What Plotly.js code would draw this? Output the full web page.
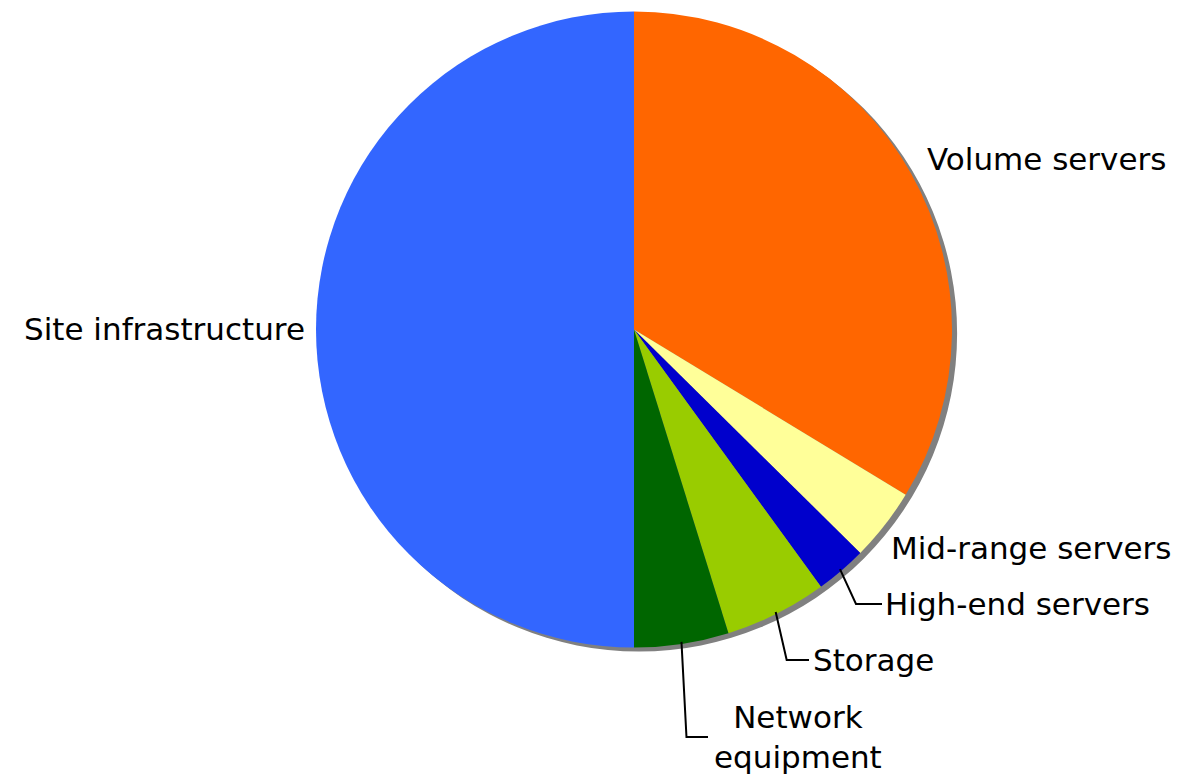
<!DOCTYPE html>
<html>
<head>
<meta charset="utf-8">
<script src="https://cdn.plot.ly/plotly-3.0.1.min.js"></script>
<style>
html,body{margin:0;padding:0;background:#fff;}
#chart{width:1191px;height:774px;}
</style>
</head>
<body>
<div id="chart"></div>
<script>
// ---- data ----
const labels = ['Volume servers', 'Mid-range servers', 'High-end servers', 'Storage', 'Network equipment', 'Site infrastructure'];
const values = [33.7, 3.7, 2.6, 5.2, 4.8, 50.0];
const colors = ['#FF6600', '#FFFF99', '#0000CC', '#99CC00', '#006600', '#3366FF'];
const labelText = ['Volume servers', 'Mid-range servers', 'High-end servers', 'Storage', 'Network<br>equipment', 'Site infrastructure'];

// ---- layout constants (pixels) ----
const W = 1191, H = 774;
const CX = 634, CY = 329.5, R = 318;
const SHADOW_DX = 5, SHADOW_DY = 4;
// label placement: [x, y, xanchor, leader?, elbowDx]
const labelPos = [
  [925, 159, 'left', false, 0],
  [889, 548, 'left', false, 0],
  [883, 604, 'left', true, 16],
  [811, 660, 'left', true, 11],
  [798, 737, 'center', true, 5],
  [307, 329, 'right', false, 0]
];
const leaderEnd = [null, null, 882, 809, 708, null];

const px = x => x / W;
const py = y => 1 - y / H;

const total = values.reduce((a, b) => a + b, 0);
let cum = 0;
const mids = values.map(v => { const m = (cum + v / 2) / total * 2 * Math.PI; cum += v; return m; });

const traces = [
  {
    type: 'pie', values: [1], marker: {colors: ['#808080'], line: {width: 0}},
    textinfo: 'none', hoverinfo: 'skip', showlegend: false, sort: false,
    domain: {x: [px(CX - R + SHADOW_DX), px(CX + R + SHADOW_DX)], y: [py(CY + R + SHADOW_DY), py(CY - R + SHADOW_DY)]}
  },
  {
    type: 'pie', labels: labels, values: values,
    marker: {colors: colors, line: {width: 0}},
    sort: false, direction: 'clockwise', rotation: 0,
    textinfo: 'none', hoverinfo: 'label+percent', showlegend: false,
    domain: {x: [px(CX - R), px(CX + R)], y: [py(CY + R), py(CY - R)]}
  }
];

const annotations = [];
const shapes = [];
labels.forEach((l, i) => {
  const [lx, ly, anchor, leader, edx] = labelPos[i];
  annotations.push({
    text: labelText[i], x: px(lx), y: py(ly), xref: 'paper', yref: 'paper',
    xanchor: anchor, yanchor: 'middle', showarrow: false, align: 'center',
    font: {family: 'DejaVu Sans, Verdana, sans-serif', size: 31, color: '#000'}
  });
  if (leader) {
    const a = mids[i];
    const sx = CX + (R - 2) * Math.sin(a), sy = CY - (R - 2) * Math.cos(a);
    const ex = sx + edx, ey = ly;
    const hx = leaderEnd[i];
    shapes.push({
      type: 'path', xref: 'paper', yref: 'paper',
      path: `M ${px(sx)} ${py(sy)} L ${px(ex)} ${py(ey)} L ${px(hx)} ${py(ey)}`,
      line: {color: '#000', width: 2}
    });
  }
});

Plotly.newPlot('chart', traces, {
  width: W, height: H, margin: {l: 0, r: 0, t: 0, b: 0},
  paper_bgcolor: '#fff', plot_bgcolor: '#fff',
  annotations: annotations, shapes: shapes
}, {displayModeBar: false, staticPlot: true});
</script>
</body>
</html>
